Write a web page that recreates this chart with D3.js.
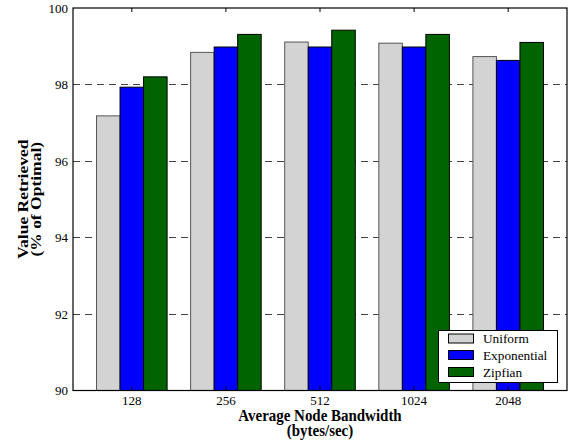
<!DOCTYPE html>
<html>
<head>
<meta charset="utf-8">
<script src="https://cdn.jsdelivr.net/npm/d3@7"></script>
<style>
  html, body { margin: 0; padding: 0; background: #fff; }
  svg { display: block; }
  text { font-family: "Liberation Serif", "Times New Roman", serif; fill: #000; }
</style>
</head>
<body>
<svg id="chart" width="569" height="443"></svg>
<script>
// Bandwidth settings on the x axis
const categories = ["128", "256", "512", "1024", "2048"];
// Value retrieved (% of optimal) per distribution
const uniform     = [97.18, 98.84, 99.11, 99.08, 98.73];
const exponential = [97.93, 98.98, 98.98, 98.98, 98.63];
const zipfian     = [98.20, 99.31, 99.42, 99.31, 99.10];
const seriesNames = ["Uniform", "Exponential", "Zipfian"];
const seriesColors = ["#d3d3d3", "#0000ff", "#006400"];
const yTicks = [90, 92, 94, 96, 98, 100];

const seriesValues = [uniform, exponential, zipfian];

const svg = d3.select("#chart");
const plotL = 73, plotR = 567, plotT = 8, plotB = 390.5;
const squeeze = 0.88; // condensed title lettering

const x = d3.scaleBand().domain(categories).range([plotL, plotR])
  .paddingInner(0.25).paddingOuter(0.25);
const xs = d3.scaleBand().domain(seriesNames).range([0, x.bandwidth()]);
const y = d3.scaleLinear().domain([90, 100]).range([plotB, plotT]);

// dashed horizontal grid lines
svg.append("g").selectAll("line")
  .data(yTicks.filter(t => t > 90 && t < 100))
  .join("line")
  .attr("x1", plotL).attr("x2", plotR)
  .attr("y1", d => Math.round(y(d)) + 0.5).attr("y2", d => Math.round(y(d)) + 0.5)
  .attr("stroke", "#444").attr("stroke-width", 1)
  .attr("stroke-dasharray", "7,5");

// bars
const rows = categories.map((c, i) => ({ c, vals: seriesValues.map((s, j) => ({ name: seriesNames[j], v: s[i], j })) }));
svg.append("g").selectAll("g")
  .data(rows).join("g")
  .attr("transform", d => `translate(${x(d.c)},0)`)
  .selectAll("rect")
  .data(d => d.vals).join("rect")
  .attr("x", d => xs(d.name))
  .attr("y", d => y(d.v))
  .attr("width", xs.bandwidth())
  .attr("height", d => y(90) - y(d.v))
  .attr("fill", d => seriesColors[d.j])
  .attr("stroke", d => d.j === 0 ? "#555" : "#000")
  .attr("stroke-width", 1);

// frame
svg.append("rect")
  .attr("x", plotL).attr("y", plotT)
  .attr("width", plotR - plotL).attr("height", plotB - plotT)
  .attr("fill", "none").attr("stroke", "#000").attr("stroke-width", 1.2);

// x axis: tick labels below, tick marks inward at bottom and top
const xAxis = d3.axisBottom(x).tickSize(0).tickPadding(5);
const gx = svg.append("g").attr("transform", `translate(0,${plotB})`).call(xAxis);
gx.select(".domain").remove();
gx.selectAll("text").attr("font-size", "13px");
svg.append("g").selectAll("line").data(categories).join("line")
  .attr("x1", d => x(d) + x.bandwidth() / 2).attr("x2", d => x(d) + x.bandwidth() / 2)
  .attr("y1", plotT).attr("y2", plotT + 4)
  .attr("stroke", "#000");
svg.append("g").selectAll("line").data(categories).join("line")
  .attr("x1", d => x(d) + x.bandwidth() / 2).attr("x2", d => x(d) + x.bandwidth() / 2)
  .attr("y1", plotB).attr("y2", plotB - 4)
  .attr("stroke", "#000");

// y axis labels
const yAxis = d3.axisLeft(y).tickValues(yTicks).tickSize(0).tickPadding(5).tickFormat(d3.format("d"));
const gy = svg.append("g").attr("transform", `translate(${plotL},0)`).call(yAxis);
gy.select(".domain").remove();
gy.selectAll("text").attr("font-size", "13px");

// axis titles (bold, slightly condensed)
const xt = svg.append("text").attr("text-anchor", "middle")
  .attr("font-weight", "bold").attr("font-size", "17px")
  .attr("transform", `translate(${(plotL + plotR) / 2},0) scale(${squeeze},1)`);
xt.append("tspan").attr("x", 0).attr("y", 421.5).text("Average Node Bandwidth");
xt.append("tspan").attr("x", 0).attr("y", 436.5).text("(bytes/sec)");

const yt = svg.append("text").attr("text-anchor", "middle")
  .attr("font-weight", "bold").attr("font-size", "17.5px")
  .attr("transform", `translate(0,${(plotT + plotB) / 2}) scale(${squeeze},1) rotate(-90)`);
yt.append("tspan").attr("x", 0).attr("y", 28.5 / squeeze).text("Value Retrieved");
yt.append("tspan").attr("x", 0).attr("y", 41 / squeeze).text("(% of Optimal)");

// legend
const lg = svg.append("g");
lg.append("rect").attr("x", 438.5).attr("y", 330.5).attr("width", 119).attr("height", 52)
  .attr("fill", "#fff").attr("stroke", "#000").attr("stroke-width", 1);
const ly = [338.5, 355, 372];
seriesNames.forEach((n, i) => {
  lg.append("rect").attr("x", 448.5).attr("y", ly[i] - 4.5).attr("width", 25).attr("height", 9)
    .attr("fill", seriesColors[i]).attr("stroke", "#000");
  lg.append("text").attr("x", 483).attr("y", ly[i] + 4.5).attr("font-size", "13.3px").text(n);
});
</script>
</body>
</html>
